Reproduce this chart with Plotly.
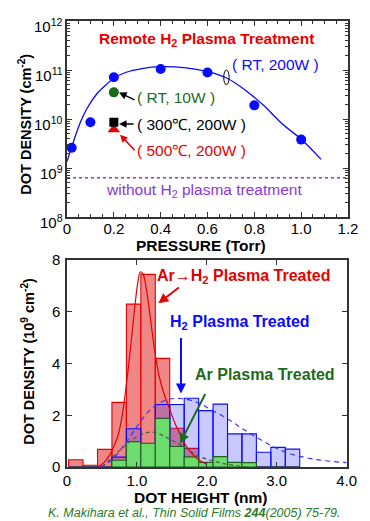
import numpy as np
import plotly.graph_objects as go

# ---------------- data: top panel ----------------
pressure_rt200 = [0.02, 0.10, 0.20, 0.40, 0.60, 0.80, 1.00]
density_rt200 = [2.6e9, 8.6e9, 7.1e10, 1.05e11, 8.9e10, 1.9e10, 3.8e9]

fit_pressure = [0.0, 0.028, 0.056, 0.084, 0.126, 0.167, 0.20, 0.25, 0.32, 0.40, 0.50,
                0.60, 0.684, 0.767, 0.837, 0.92, 1.005, 1.085]
fit_density = [1.35e9, 3.5e9, 8.3e9, 1.6e10, 3.2e10, 5.0e10, 6.8e10, 8.9e10, 1.07e11,
               1.17e11, 1.12e11, 9.3e10, 6.8e10, 3.7e10, 1.95e10, 7.9e9, 3.7e9, 1.5e9]

pressure_rt10 = [0.20]
density_rt10 = [3.5e10]
pressure_300c = [0.20]
density_300c = [8.6e9]
pressure_500c = [0.20]
density_500c = [6.1e9]

no_treatment_density = 6.3e8
pressure_range = [0.0, 1.2]

# ---------------- data: bottom panel ----------------
bin_centers = [0.126, 0.333, 0.540, 0.746, 0.953, 1.160, 1.366, 1.573,
               1.780, 1.986, 2.193, 2.400, 2.606, 2.813, 3.020, 3.226]
bin_width = 0.2067
arh2_counts = [0.28, 0.07, 0.68, 2.5, 6.3, 7.45, 4.2, 1.5, 0.72, 0, 0, 0, 0, 0, 0, 0]
h2_counts = [0, 0, 0, 0.38, 1.48, 0.9, 2.42, 2.42, 2.66, 2.18, 2.43, 1.28, 1.28, 0.57, 0.76, 0.69]
ar_counts = [0, 0, 0, 0.26, 0.98, 0.92, 1.88, 0.79, 0.39, 0.18, 0.4, 0.18, 0.17, 0, 0, 0]

arh2_fit_x = [0.43, 0.52, 0.61, 0.67, 0.73, 0.79, 0.85, 0.92, 0.97, 1.01, 1.05, 1.09,
              1.14, 1.20, 1.26, 1.32, 1.38, 1.46, 1.56, 1.72, 1.86, 2.0]
arh2_fit_y = [0, 0.15, 0.46, 0.8, 1.22, 2.0, 3.2, 4.9, 6.2, 7.07, 7.55, 7.45,
              6.8, 5.6, 4.4, 3.5, 2.9, 2.3, 1.6, 0.75, 0.33, 0.1]
h2_fit_x = [0.47, 0.64, 0.83, 1.01, 1.20, 1.39, 1.53, 1.66, 1.87, 2.07, 2.30, 2.50,
            2.72, 3.12, 3.54, 4.0]
h2_fit_y = [0, 0.27, 0.9, 1.6, 2.24, 2.56, 2.65, 2.64, 2.49, 2.2, 1.86, 1.5,
            1.13, 0.58, 0.3, 0.17]
ar_fit_x = [0.50, 0.73, 0.92, 1.11, 1.20, 1.30, 1.49, 1.67, 1.86, 2.07, 2.30, 2.57]
ar_fit_y = [0, 0.58, 1.03, 1.3, 1.35, 1.3, 1.05, 0.78, 0.45, 0.25, 0.1, 0]

top_xticks = [0, 0.2, 0.4, 0.6, 0.8, 1.0, 1.2]
top_xticklabels = ["0", "0.2", "0.4", "0.6", "0.8", "1.0", "1.2"]
top_yticks = [1e8, 1e9, 1e10, 1e11, 1e12]
top_yticklabels = ["10<sup>8</sup>", "10<sup>9</sup>", "10<sup>10</sup>", "10<sup>11</sup>", "10<sup>12</sup>"]
bot_xticks = [0, 1, 2, 3, 4]
bot_xticklabels = ["0", "1.0", "2.0", "3.0", "4.0"]
bot_yticks = [0, 2, 4, 6, 8]

# ---------------- styling / geometry ----------------
W, H = 370, 521
ML, MR, MT, MB = 67, 17, 12, 54
PW, PH = W - ML - MR, H - MT - MB


def P(px, py):
    return (px - ML) / PW, (H - MB - py) / PH


FONT = "Liberation Sans, Arial, Helvetica, sans-serif"
RED = "#e60000"
BLUE = "#0a0aff"
DGREEN = "#1b6b1b"
PURPLE = "#8a35e0"

fig = go.Figure()

# top panel
fig.add_trace(go.Scatter(x=fit_pressure, y=fit_density, mode="lines",
                         line=dict(color=BLUE, width=1.3, shape="spline", smoothing=1.0),
                         xaxis="x", yaxis="y", hoverinfo="skip"))
fig.add_trace(go.Scatter(x=pressure_range, y=[no_treatment_density] * 2, mode="lines",
                         line=dict(color=PURPLE, width=1.5, dash="3px,3px"),
                         xaxis="x", yaxis="y"))
fig.add_trace(go.Scatter(x=pressure_rt200, y=density_rt200, mode="markers",
                         marker=dict(color=BLUE, size=10), xaxis="x", yaxis="y"))
fig.add_trace(go.Scatter(x=pressure_rt10, y=density_rt10, mode="markers",
                         marker=dict(color=DGREEN, size=10), xaxis="x", yaxis="y"))
fig.add_trace(go.Scatter(x=pressure_500c, y=density_500c, mode="markers",
                         marker=dict(color=RED, size=11, symbol="triangle-up"), xaxis="x", yaxis="y"))
fig.add_trace(go.Scatter(x=pressure_300c, y=density_300c, mode="markers",
                         marker=dict(color="black", size=9, symbol="square"), xaxis="x", yaxis="y"))

# bottom panel bars
fig.add_trace(go.Bar(x=bin_centers, y=arh2_counts, width=bin_width,
                     marker=dict(color="rgba(232,70,70,0.65)", line=dict(color=RED, width=1.1)),
                     xaxis="x2", yaxis="y2"))
fig.add_trace(go.Bar(x=bin_centers, y=h2_counts, width=bin_width,
                     marker=dict(color="rgba(40,40,255,0.25)", line=dict(color=BLUE, width=1.1)),
                     xaxis="x2", yaxis="y2"))
fig.add_trace(go.Bar(x=bin_centers, y=ar_counts, width=bin_width,
                     marker=dict(color="rgb(108,220,108)", line=dict(color="#1f5f1f", width=1.1)),
                     xaxis="x2", yaxis="y2"))
fig.add_trace(go.Scatter(x=arh2_fit_x, y=arh2_fit_y, mode="lines",
                         line=dict(color=RED, width=1.2, shape="spline", smoothing=1.0),
                         xaxis="x2", yaxis="y2"))
fig.add_trace(go.Scatter(x=ar_fit_x, y=ar_fit_y, mode="lines",
                         line=dict(color="#4d5a40", width=1.2, dash="4px,3px", shape="spline"),
                         xaxis="x2", yaxis="y2"))
fig.add_trace(go.Scatter(x=h2_fit_x, y=h2_fit_y, mode="lines",
                         line=dict(color="#3333ff", width=1.2, dash="5px,4px", shape="spline"),
                         xaxis="x2", yaxis="y2"))

TICKFONT = dict(family=FONT, size=15, color="black")
axis_common = dict(showline=True, linecolor="#333", linewidth=1.5, mirror="allticks",
                   ticks="inside", ticklen=5, tickcolor="#333", tickwidth=1.2,
                   showgrid=False, zeroline=False, tickfont=TICKFONT)

top_y0, top_y1 = P(0, 212)[1], P(0, 12)[1]
bot_y0, bot_y1 = P(0, 467)[1], P(0, 256)[1]

fig.update_layout(
    width=W, height=H, margin=dict(l=ML, r=MR, t=MT, b=MB),
    paper_bgcolor="white", plot_bgcolor="white", showlegend=False, barmode="overlay",
    font=dict(family=FONT, color="black"),
    xaxis=dict(axis_common, anchor="y", domain=[0, 1], range=[0, 1.2],
               tickvals=top_xticks, ticktext=top_xticklabels, ticklabelstandoff=-3,
               minor=dict(ticks="inside", ticklen=3, dtick=0.05, tickcolor="#333")),
    yaxis=dict(axis_common, anchor="x", domain=[top_y0, top_y1], type="log", range=[8, 12],
               tickvals=top_yticks, showticklabels=False,
               minor=dict(ticks="inside", ticklen=3, dtick="D1", tickcolor="#333")),
    xaxis2=dict(axis_common, anchor="y2", domain=[0, 0.995], range=[0, 4],
                tickvals=bot_xticks, ticktext=bot_xticklabels, ticklabelstandoff=-1),
    yaxis2=dict(axis_common, anchor="x2", domain=[bot_y0, bot_y1], range=[0, 8],
                tickvals=bot_yticks, ticklabelstandoff=2),
)

ann = []

# top y tick labels (power-of-ten labels sit just below their tick, as in the original)
for v, lab in zip(top_yticks, top_yticklabels):
    ann.append(dict(x=P(64.5, 0)[0], xref="paper", y=np.log10(v), yref="y", text=lab,
                    showarrow=False, xanchor="right", yanchor="middle", yshift=-4,
                    font=TICKFONT))


def text(px, py, s, color="black", size=15, bold=False, xanchor="center", angle=0, italic=False):
    x, y = P(px, py)
    if bold:
        s = "<b>" + s + "</b>"
    if italic:
        s = "<i>" + s + "</i>"
    ann.append(dict(x=x, y=y, xref="paper", yref="paper", text=s, showarrow=False,
                    xanchor=xanchor, yanchor="middle", textangle=angle,
                    font=dict(family=FONT, size=size, color=color)))


def arrow(hx, hy, tx, ty, color, width=1.5, size=1.0):
    x, y = P(hx, hy)
    ann.append(dict(x=x, y=y, xref="paper", yref="paper", text="", showarrow=True,
                    ax=tx - hx, ay=ty - hy, arrowhead=2, arrowsize=size,
                    arrowwidth=width, arrowcolor=color))


# top panel text
text(209, 31, "Remote H<sub>2</sub> Plasma Treatment", RED, 15.5, bold=True)
text(233, 56, "( RT, 200W )", BLUE, 15.5, xanchor="left")
text(136, 90, "( RT, 10W )", DGREEN, 15.5, xanchor="left")
text(136, 118, "( 300℃, 200W )", "black", 15.5, xanchor="left")
text(136, 144, "( 500℃, 200W )", RED, 15.5, xanchor="left")
text(206, 185, "without H<sub>2</sub> plasma treatment", PURPLE, 15.5)
text(203, 241, "PRESSURE (Torr)", "black", 15.5, bold=True)
text(24, 117, "DOT DENSITY (cm<sup>-2</sup>)", "black", 14.5, bold=True, angle=-90)
arrow(120, 85, 137, 93, "black", 1.5, 1.0)
arrow(120, 117, 136, 117, "black", 1.5, 1.0)
arrow(121, 128, 137, 145, RED, 1.5, 1.0)

# bottom panel text
text(157, 273, "Ar→H<sub>2</sub> Plasma Treated", RED, 16, bold=True, xanchor="left")
text(170, 320, "H<sub>2</sub> Plasma Treated", BLUE, 16, bold=True, xanchor="left")
text(195, 373, "Ar Plasma Treated", DGREEN, 16, bold=True, xanchor="left")
text(203, 498, "DOT HEIGHT (nm)", "black", 15.5, bold=True)
text(27, 359, "DOT DENSITY (10<sup>9</sup> cm<sup>-2</sup>)", "black", 14.5, bold=True, angle=-90)
text(197, 514, "K. Makihara et al., Thin Solid Films <b>244</b>(2005) 75-79.", "#2a7a2a", 12.5, italic=True)
arrow(160, 300, 182, 283, RED, 2, 1.0)
arrow(183, 392, 183, 335, BLUE, 2, 1.0)
arrow(182, 443, 208, 392, DGREEN, 2, 1.0)

fig.update_layout(annotations=ann)

# small loop mark linking the label to the curve
lx0, ly0 = P(226.5, 77)
lx1, ly1 = P(232, 62)
fig.add_shape(type="circle", xref="paper", yref="paper", x0=lx0, y0=ly0, x1=lx1, y1=ly1,
              line=dict(color="black", width=1))

fig.write_html("out.html")
